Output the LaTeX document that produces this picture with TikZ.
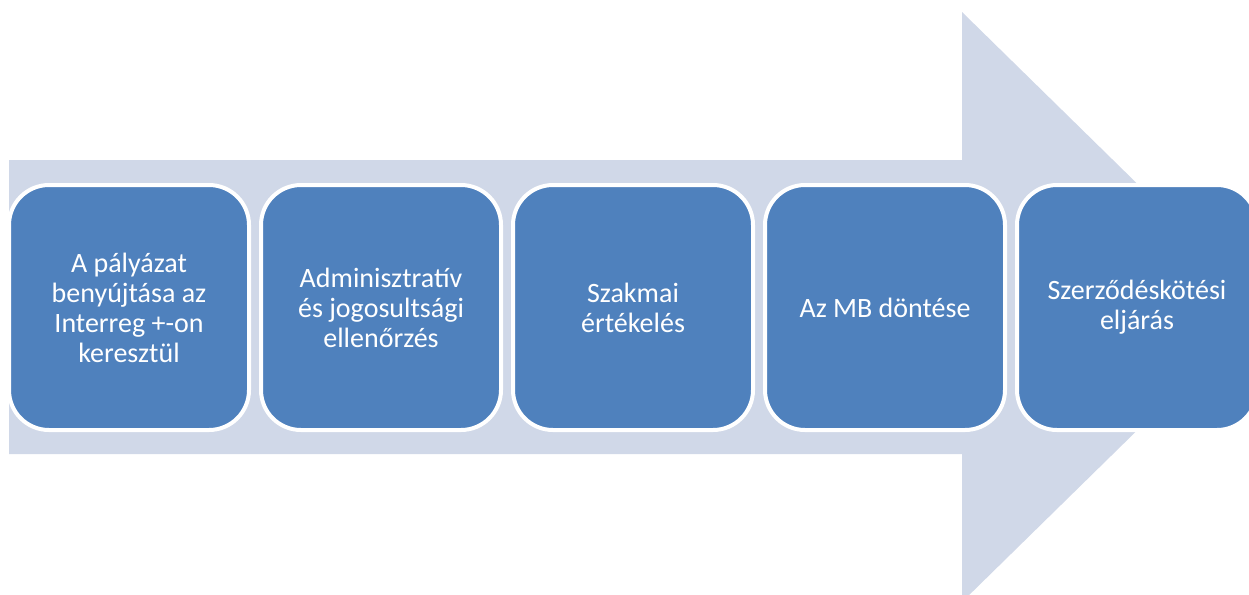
\documentclass[tikz,border=0pt]{standalone}
\usepackage{fontspec}
\setmainfont{Carlito}
\definecolor{stepblue}{HTML}{4F81BD}
\definecolor{arrowpale}{HTML}{D0D8E8}

\begin{document}
\begin{tikzpicture}[
  x=0.75pt, y=-0.75pt,
  stage/.style={draw=white, line width=3pt, fill=stepblue, rounded corners=30pt,
    minimum width=180pt, minimum height=183.75pt, align=center, text=white,
    font=\fontsize{21}{22.5}\selectfont},
  bigarrow/.style={fill=arrowpale}
]

\useasboundingbox (0,0) rectangle (1249,594);
\clip (0,0) rectangle (1249,594);

% Background arrow
\fill[bigarrow] (9,160) -- (962,160) -- (962,12) -- (1263,307)
  -- (962,602) -- (962,454) -- (9,454) -- cycle;

% Nodes
\node[stage] (s1) at (129,307.5) {A pályázat\\benyújtása az\\Interreg +-on\\keresztül};
\node[stage] (s2) at (381,307.5) {Adminisztratív\\és jogosultsági\\ellenőrzés};
\node[stage] (s3) at (633,307.5) {Szakmai\\értékelés};
\node[stage] (s4) at (885,307.5) {Az MB döntése};
\node[stage] (s5) at (1137,307.5) {Szerződéskötési\\eljárás};

\end{tikzpicture}
\end{document}
